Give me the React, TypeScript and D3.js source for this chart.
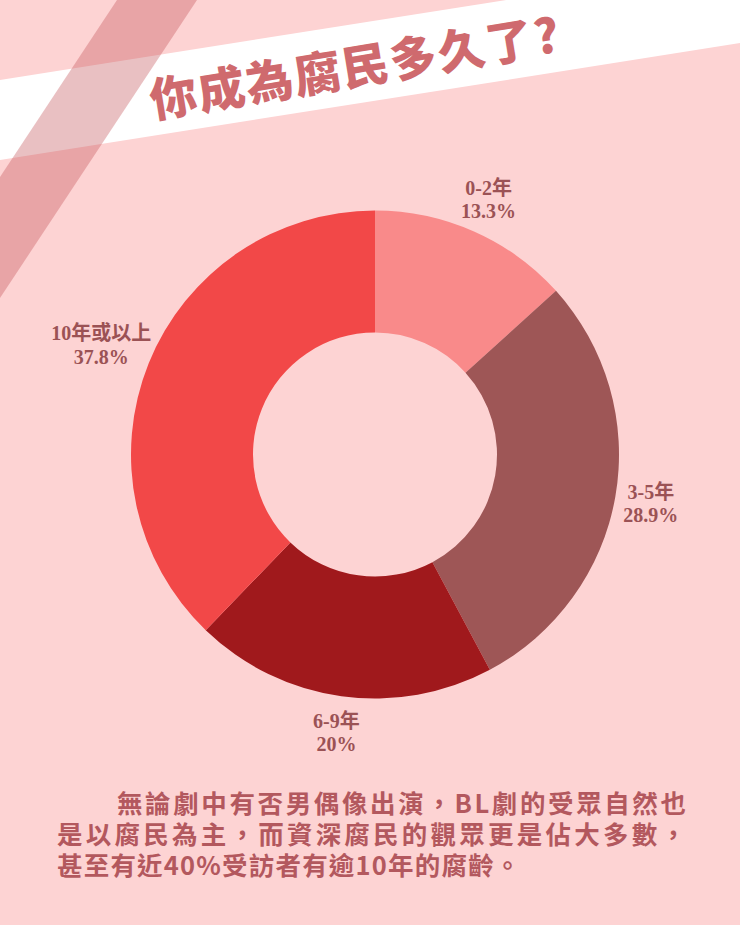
import React from "react";
import * as d3 from "d3";

const W = 740;
const H = 925;

const categories = ["0-2年", "3-5年", "6-9年", "10年或以上"];
const values = [13.3, 28.9, 20, 37.8];
const valueLabels = ["13.3%", "28.9%", "20%", "37.8%"];
const sliceColors = ["#f98a8a", "#9e5656", "#a0191c", "#f24848"];

const titleText = "你成為腐民多久了?";
const paragraphLines = [
  "無論劇中有否男偶像出演，BL劇的受眾自然也",
  "是以腐民為主，而資深腐民的觀眾更是佔大多數，",
  "甚至有近40%受訪者有逾10年的腐齡。",
];

const BG = "#fdd3d3";
const TITLE_COLOR = "#cf6a6e";
const LABEL_COLOR = "#9b5255";
const PARA_COLOR = "#b3585e";

// rough text width estimate for label placement
function estWidth(s: string, size: number) {
  let w = 0;
  for (const ch of s) {
    const code = ch.charCodeAt(0);
    if (code > 0x2e80) w += size * 0.95;
    else if (ch === "%") w += size * 0.83;
    else if (ch === ".") w += size * 0.25;
    else if (ch === "-") w += size * 0.33;
    else w += size * 0.5;
  }
  return w;
}

export default function App() {
  React.useEffect(() => {
    document.body.style.margin = "0";
  }, []);

  const cx = 375;
  const cy = 454.5;
  const outerR = 244;
  const innerR = 122;
  const labelBaseR = 280;
  const labelSize = 20;

  const data = categories.map((c, i) => ({ cat: c, value: values[i], label: valueLabels[i], color: sliceColors[i] }));
  const pie = d3.pie<any>().sort(null).value((d: any) => d.value);
  const arcs = pie(data);
  const arcGen = d3.arc<any>().innerRadius(innerR).outerRadius(outerR);

  const bandSlope = -0.158;
  const whiteBand = [
    [0, 80],
    [0, 160],
    [W, 160 + bandSlope * W],
    [W, 80 + bandSlope * W],
  ];
  const stripe = [
    [117, 0],
    [197, 0],
    [0, 298],
    [0, 177],
  ];
  const line = d3.line();

  const serif = "'Liberation Serif', 'Noto Sans CJK TC', serif";
  const cjk = "'Noto Sans CJK TC', 'Noto Sans', sans-serif";

  return (
    <svg
      width={W}
      height={H}
      viewBox={`0 0 ${W} ${H}`}
      style={{ display: "block", position: "absolute", left: 0, top: 0 }}
    >
      <rect x={0} y={0} width={W} height={H} fill={BG} />
      <path d={line(whiteBand as any) + "Z"} fill="#ffffff" />
      <path d={line(stripe as any) + "Z"} fill="rgb(195,80,85)" fillOpacity={0.36} />

      <text
        transform={`translate(153,118) rotate(-9.3)`}
        fontFamily={cjk}
        fontWeight={900}
        fontSize={47}
        letterSpacing={1.6}
        fill={TITLE_COLOR}
      >
        {titleText}
      </text>

      <g transform={`translate(${cx},${cy})`}>
        {arcs.map((a, i) => (
          <path key={i} d={arcGen(a) as string} fill={a.data.color} />
        ))}
        {arcs.map((a, i) => {
          const mid = (a.startAngle + a.endAngle) / 2;
          const w = Math.max(estWidth(a.data.cat, labelSize), estWidth(a.data.label, labelSize));
          const r = labelBaseR + Math.abs(Math.sin(mid)) * Math.max(0, w - 55) * 0.4;
          const lx = Math.sin(mid) * r;
          const ly = -Math.cos(mid) * r;
          return (
            <text
              key={"l" + i}
              x={lx}
              y={ly}
              textAnchor="middle"
              fontFamily={serif}
              fontWeight={700}
              fontSize={labelSize}
              fill={LABEL_COLOR}
            >
              <tspan x={lx} dy={-4}>{a.data.cat}</tspan>
              <tspan x={lx} dy={23.5}>{a.data.label}</tspan>
            </text>
          );
        })}
      </g>

      {paragraphLines.map((t, i) => {
        const x = i === 0 ? 117 : 57;
        const y = 813 + i * 31;
        const justify = i < paragraphLines.length - 1;
        return (
          <text
            key={"p" + i}
            x={x}
            y={y}
            fontFamily={cjk}
            fontWeight={700}
            fontSize={25.5}
            letterSpacing={justify ? 0 : 1.2}
            fill={PARA_COLOR}
            {...(justify ? { textLength: 686 - x, lengthAdjust: "spacing" } : {})}
          >
            {t}
          </text>
        );
      })}
    </svg>
  );
}
